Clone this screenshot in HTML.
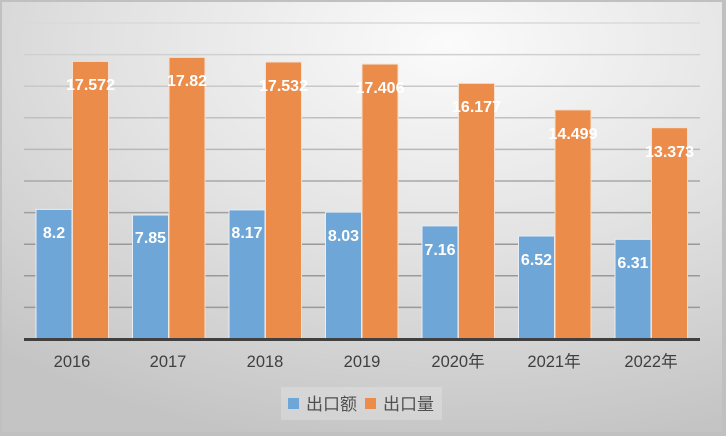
<!DOCTYPE html>
<html><head><meta charset="utf-8"><style>
html,body{margin:0;padding:0;}
body{width:726px;height:436px;overflow:hidden;}
</style></head><body>
<svg width="726" height="436" xmlns="http://www.w3.org/2000/svg" font-family="Liberation Sans, 'Noto Sans CJK SC', sans-serif">
<defs>
<radialGradient id="bg" cx="0.62" cy="0.1" r="0.95">
<stop offset="0" stop-color="#fbfbfb"/>
<stop offset="0.5" stop-color="#e2e2e2"/>
<stop offset="1" stop-color="#c4c4c4"/>
</radialGradient>
</defs>
<rect x="0" y="0" width="726" height="436" fill="#c0c0c0"/>
<rect x="2" y="2" width="720" height="430" fill="url(#bg)"/>
<g stroke="#b0b0b0" stroke-width="1.5">
<line x1="24" x2="700" y1="23" y2="23" stroke="#dadada"/>
<line x1="24" x2="700" y1="54.6" y2="54.6" stroke="#d0d0d0"/>
<line x1="24" x2="700" y1="86.2" y2="86.2" stroke="#c8c8c8"/>
<line x1="24" x2="700" y1="117.8" y2="117.8" stroke="#c0c0c0"/>
<line x1="24" x2="700" y1="149.4" y2="149.4" stroke="#b8b8b8"/>
<line x1="24" x2="700" y1="181" y2="181" stroke="#a8a8a8"/>
<line x1="24" x2="700" y1="212.6" y2="212.6" stroke="#a0a0a0"/>
<line x1="24" x2="700" y1="244.2" y2="244.2" stroke="#999"/>
<line x1="24" x2="700" y1="275.8" y2="275.8" stroke="#999"/>
<line x1="24" x2="700" y1="307.4" y2="307.4" stroke="#999"/>
</g>
<g stroke="#e8eef5" stroke-width="1">
<rect x="36" y="209.4" width="36" height="129.6" fill="#6fa6d8"/>
<rect x="132.5" y="215" width="36" height="124" fill="#6fa6d8"/>
<rect x="229" y="209.9" width="36" height="129.1" fill="#6fa6d8"/>
<rect x="325.5" y="212.1" width="36" height="126.9" fill="#6fa6d8"/>
<rect x="422" y="225.9" width="36" height="113.1" fill="#6fa6d8"/>
<rect x="518.5" y="236" width="36" height="103" fill="#6fa6d8"/>
<rect x="615" y="239.3" width="36" height="99.7" fill="#6fa6d8"/>
</g>
<g stroke="#f5e0d0" stroke-width="1">
<rect x="72.5" y="61.4" width="36" height="277.6" fill="#ec8c4a"/>
<rect x="169" y="57.4" width="36" height="281.6" fill="#ec8c4a"/>
<rect x="265.5" y="62" width="36" height="277" fill="#ec8c4a"/>
<rect x="362" y="64.1" width="36" height="274.9" fill="#ec8c4a"/>
<rect x="458.5" y="83.4" width="36" height="255.6" fill="#ec8c4a"/>
<rect x="555" y="109.9" width="36" height="229.1" fill="#ec8c4a"/>
<rect x="651.5" y="127.7" width="36" height="211.3" fill="#ec8c4a"/>
</g>
<line x1="24" x2="700" y1="339.5" y2="339.5" stroke="#404040" stroke-width="3"/>
<g fill="#fff" font-weight="bold" font-size="16" text-anchor="middle">
<text x="54" y="238">8.2</text>
<text x="150.5" y="243">7.85</text>
<text x="247" y="238">8.17</text>
<text x="343.5" y="241">8.03</text>
<text x="440" y="255">7.16</text>
<text x="536.5" y="265">6.52</text>
<text x="633" y="268">6.31</text>
<text x="90.5" y="90">17.572</text>
<text x="187" y="86">17.82</text>
<text x="283.5" y="91">17.532</text>
<text x="380" y="93">17.406</text>
<text x="476.5" y="112">16.177</text>
<text x="573" y="139">14.499</text>
<text x="669.5" y="157">13.373</text>
</g>
<g fill="#404040" font-size="16.5" text-anchor="middle">
<text x="72" y="367">2016</text>
<text x="168" y="367">2017</text>
<text x="265" y="367">2018</text>
<text x="362" y="367">2019</text>
<text x="458" y="367">2020年</text>
<text x="554" y="367">2021年</text>
<text x="651" y="367">2022年</text>
</g>
<rect x="281" y="387" width="161" height="33" fill="#e6e6e6" opacity="0.4"/>
<rect x="288" y="398" width="11" height="11" fill="#6fa6d8"/>
<text x="306" y="410" font-size="17" fill="#505050">出口额</text>
<rect x="365" y="398" width="11" height="11" fill="#ec8c4a"/>
<text x="383" y="410" font-size="17" fill="#505050">出口量</text>
</svg>
</body></html>
